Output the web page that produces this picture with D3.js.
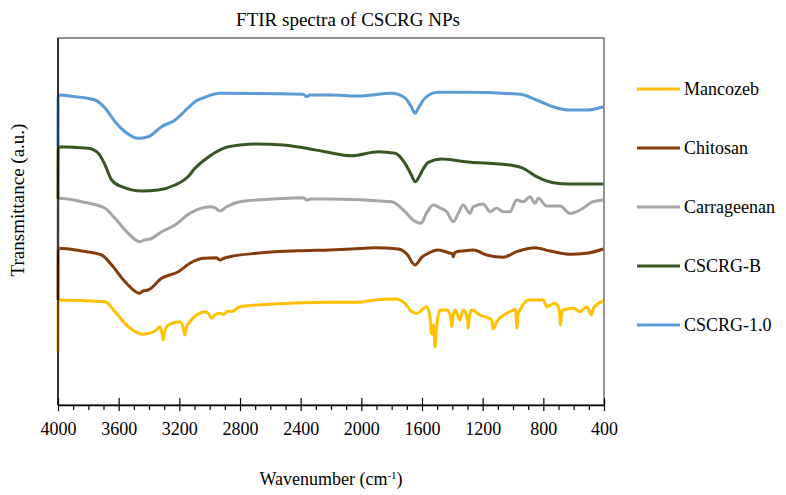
<!DOCTYPE html>
<html>
<head>
<meta charset="utf-8">
<script src="https://cdn.jsdelivr.net/npm/d3@7"></script>
<style>
  html, body { margin: 0; padding: 0; background: #fff; }
  text { font-family: "Liberation Serif", "Times New Roman", serif; }
</style>
</head>
<body>
<script>
// ---------------- DATA (wavenumber cm-1, transmittance a.u. with vertical offsets) ----------------
const seriesNames = ["Mancozeb", "Chitosan", "Carrageenan", "CSCRG-B", "CSCRG-1.0"];
const seriesColors = ["#FFC000", "#843C0C", "#A5A5A5", "#375623", "#5B9BD5"];
const xTicks = [4000, 3600, 3200, 2800, 2400, 2000, 1600, 1200, 800, 400];

const mancozeb = [[4000,53],[3999,105],[3690,103.3],[3624,93.3],[3537,78.3],[3438,70.7],[3360,74],[3328,78.3],[3312,70],[3306,65],[3298,72],[3273,80],[3196,83.3],[3172,76],[3163,70],[3152,78],[3130,83.3],[3086,90],[3031,93.3],[3009,91.7],[2987,86.7],[2965,90],[2932,91.7],[2910,90.7],[2877,94],[2855,93.3],[2800,98.3],[2581,101],[2207,102.7],[2020,102.7],[1910,105],[1778,106],[1712,101.7],[1679,95],[1635,91.7],[1569,98.3],[1547,88],[1536,71],[1524,80],[1514,58.3],[1503,78.3],[1481,95],[1437,95],[1410,88],[1404,78.3],[1396,88],[1382,95],[1350,85],[1328,95],[1300,86],[1295,76.7],[1288,88],[1273,95],[1218,90],[1141,85],[1130,76],[1108,83.3],[1042,91.7],[998,95],[985,96],[979,88],[974,76.7],[968,90],[947,97],[899,105],[800,105],[778,98.3],[723,101.7],[695,95],[690,86],[687,80],[680,90],[668,95],[602,96.7],[558,93.3],[514,98.3],[481,90],[470,96.7],[405,104]];

const chitosan = [[4000,105],[3999,156.7],[3844,154],[3712,150],[3646,140],[3558,123.3],[3459,111.7],[3440,114],[3405,115],[3317,126.7],[3207,133.3],[3130,141.7],[3042,146.7],[2954,147.3],[2932,145],[2910,146.5],[2866,148.3],[2690,151.7],[2383,154.3],[2207,155],[2064,156],[1910,157.3],[1756,156],[1700,151],[1646,140],[1600,148],[1580,150],[1492,155],[1426,152.3],[1400,151],[1394,148.3],[1385,152],[1372,153.3],[1317,154.3],[1262,155],[1174,150],[1064,147.7],[976,153.3],[855,157.3],[756,154],[624,150.7],[514,151.7],[405,156]];

const carrageenan = [[4000,155],[3999,206.7],[3844,203.3],[3690,196.7],[3624,186.7],[3537,171.7],[3459,163.3],[3430,165],[3393,166],[3316,173.3],[3229,180],[3130,191.7],[2998,198.3],[2965,197.3],[2932,194],[2888,198.3],[2800,203.3],[2581,206],[2383,207.3],[2360,205],[2330,206],[2207,206],[1800,203.3],[1712,193.3],[1650,184],[1607,181.7],[1570,192],[1526,200],[1480,197],[1437,193.3],[1394,183.3],[1360,192],[1328,200],[1284,191.7],[1262,198.3],[1196,201],[1152,193.3],[1108,196.7],[1064,193.3],[1020,193.3],[976,205],[932,203.3],[888,208.3],[855,201.7],[833,206.7],[778,199],[690,199],[624,191.7],[558,195],[471,203.3],[405,205]];

const cscrgB = [[4000,206],[3999,258.3],[3800,256.7],[3734,251.7],[3690,240],[3646,225],[3580,218.3],[3448,214],[3339,215],[3229,220],[3143,228.3],[3097,236.7],[3020,246.7],[2910,256.7],[2800,260],[2690,261],[2517,260],[2385,257.3],[2240,253.3],[2064,249.3],[1888,253.3],[1778,251.7],[1712,241.7],[1670,230],[1646,223.3],[1620,228],[1602,233.3],[1559,242.7],[1470,246],[1317,243.3],[1020,240],[932,236.7],[844,228.3],[735,222.3],[624,221],[405,221]];

const cscrg10 = [[4000,258],[3999,310],[3888,308.3],[3756,305],[3690,297],[3624,283.3],[3558,273.3],[3471,266.7],[3405,268.3],[3317,278.3],[3228,285],[3143,297],[3097,303.3],[3044,307],[2932,311.7],[2385,310.7],[2360,308.3],[2340,310],[2207,310],[2022,309],[1800,311.7],[1712,307],[1670,298],[1646,291.7],[1620,298],[1580,307],[1495,312.7],[1317,312.7],[954,310.7],[844,305],[737,298.3],[624,295],[514,295],[405,298.3]];

const seriesData = [mancozeb, chitosan, carrageenan, cscrgB, cscrg10];

// ---------------- LAYOUT ----------------
const W = 786, H = 495;
const plot = { left: 58, right: 604, top: 38, bottom: 405 };

const svg = d3.select("body").append("svg")
  .attr("width", W).attr("height", H)
  .style("background", "#fff");

const x = d3.scaleLinear().domain([4000, 400]).range([plot.left, plot.right]);
const y = d3.scaleLinear().domain([0, 367]).range([plot.bottom, plot.top]);

// plot frame
svg.append("rect")
  .attr("x", plot.left).attr("y", plot.top)
  .attr("width", plot.right - plot.left).attr("height", plot.bottom - plot.top)
  .attr("fill", "none").attr("stroke", "#595959").attr("stroke-width", 1.3);

// title
svg.append("text")
  .attr("x", 348).attr("y", 26)
  .attr("text-anchor", "middle")
  .style("font-size", "19px").attr("fill", "#000")
  .text("FTIR spectra of CSCRG NPs");

// lines
const line = d3.line()
  .x(d => x(d[0]))
  .y(d => y(d[1]))
  .curve(d3.curveMonotoneX);

seriesData.forEach((data, i) => {
  svg.append("path")
    .datum(data)
    .attr("fill", "none")
    .attr("stroke", seriesColors[i])
    .attr("stroke-width", 3)
    .attr("stroke-linejoin", "round")
    .attr("d", line);
});

// y axis line (left)
svg.append("line")
  .attr("x1", plot.left).attr("x2", plot.left)
  .attr("y1", plot.top).attr("y2", plot.bottom)
  .attr("stroke", "#000").attr("stroke-width", 1.3);

// x axis: minor ticks
const minorTicks = d3.range(4000, 399, -100).filter(v => !xTicks.includes(v));
svg.append("g")
  .attr("transform", `translate(0,${plot.bottom})`)
  .call(d3.axisBottom(x).tickValues(minorTicks).tickSize(5).tickFormat(""))
  .call(g => g.select(".domain").remove())
  .selectAll("line").attr("stroke", "#000").attr("stroke-width", 1.2);

// x axis: major ticks (crossing)
const xAxis = svg.append("g")
  .attr("transform", `translate(0,${plot.bottom})`)
  .call(d3.axisBottom(x).tickValues(xTicks).tickSize(6).tickPadding(11).tickSizeOuter(0).tickFormat(d3.format("d")));
xAxis.select(".domain").attr("stroke", "#000").attr("stroke-width", 1.3);
xAxis.selectAll(".tick line").attr("y1", -7).attr("stroke", "#000").attr("stroke-width", 1.2);
xAxis.selectAll(".tick text")
  .style("font-family", "'Liberation Serif', serif")
  .style("font-size", "18px").attr("fill", "#000");

// axis titles
const xt = svg.append("text")
  .attr("x", (plot.left + plot.right) / 2).attr("y", 485)
  .attr("text-anchor", "middle")
  .style("font-size", "18px").attr("fill", "#000");
xt.append("tspan").text("Wavenumber (cm");
xt.append("tspan").attr("dy", -6).style("font-size", "11px").text("-1");
xt.append("tspan").attr("dy", 6).text(")");

svg.append("text")
  .attr("transform", `translate(24,${200}) rotate(-90)`)
  .attr("text-anchor", "middle")
  .style("font-size", "19px").attr("fill", "#000")
  .text("Transmittance (a.u.)");

// legend
const legendY = [89, 148, 207, 266, 325];
const lg = svg.append("g");
seriesNames.forEach((name, i) => {
  const g = lg.append("g").attr("transform", `translate(0,${legendY[i]})`);
  g.append("line").attr("x1", 637).attr("x2", 680).attr("y1", 0).attr("y2", 0)
    .attr("stroke", seriesColors[i]).attr("stroke-width", 3);
  g.append("text").attr("x", 684).attr("y", 0).attr("dy", "0.35em")
    .style("font-size", "18px").attr("fill", "#000").text(name);
});
</script>
</body>
</html>
